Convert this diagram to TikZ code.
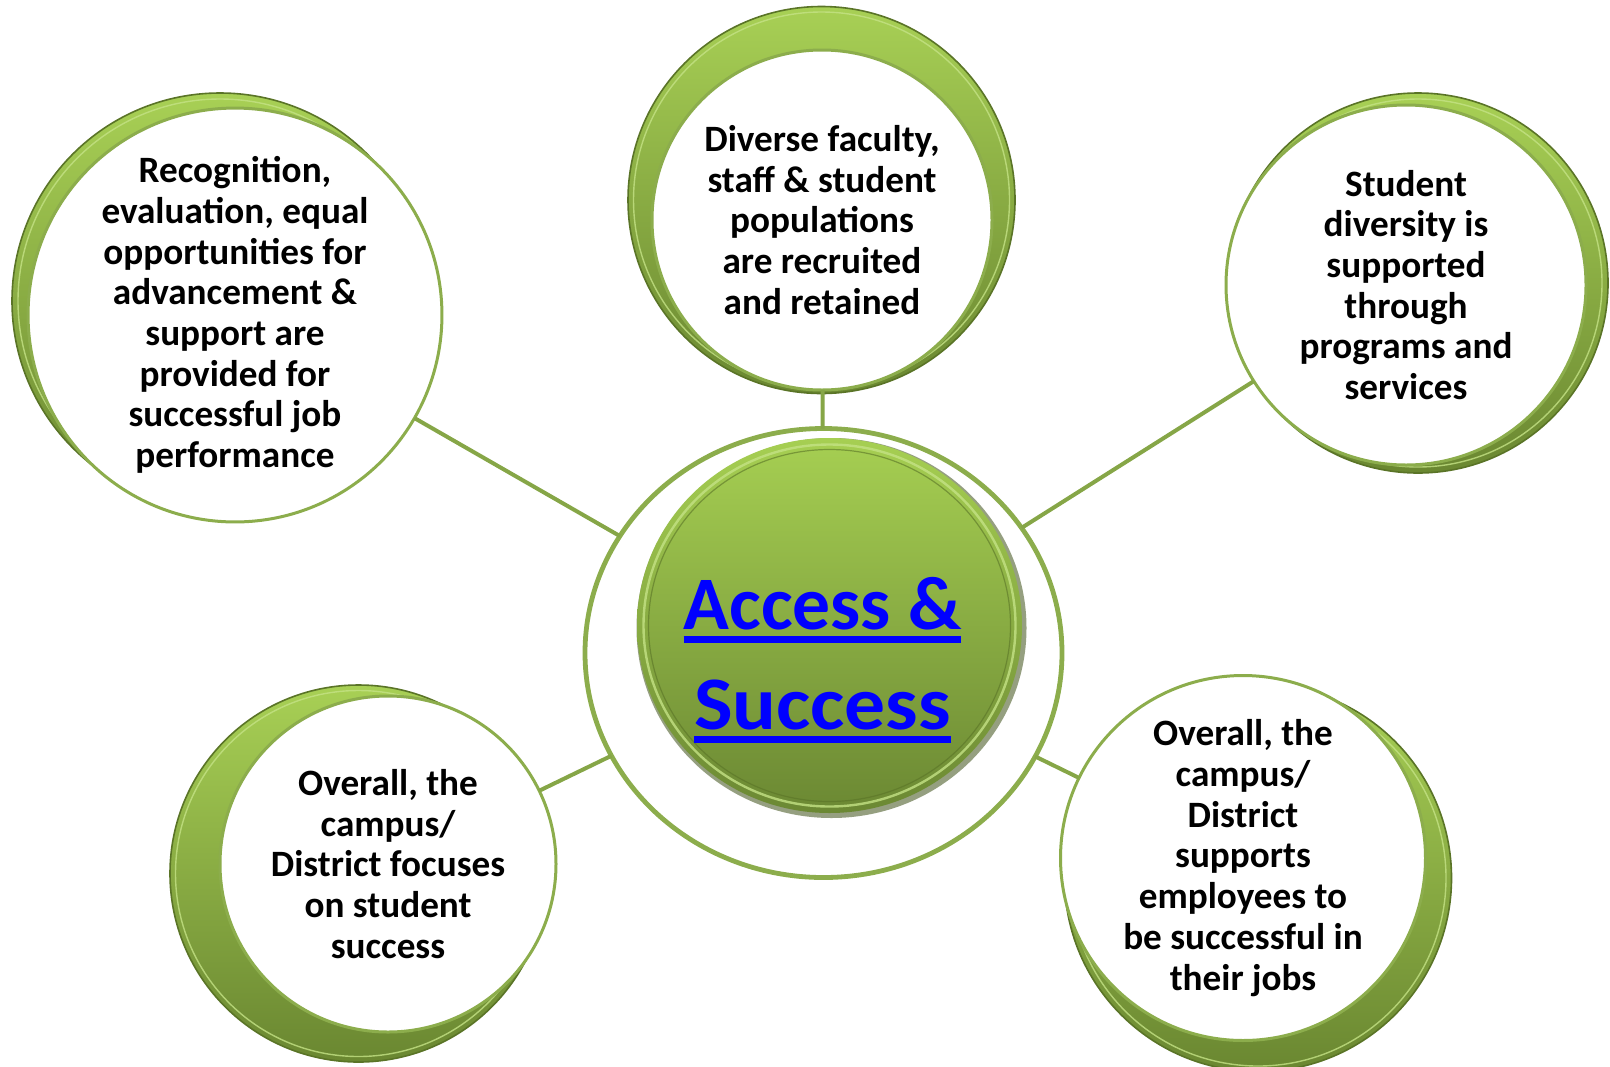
\documentclass[tikz,border=0pt]{standalone}
\usepackage{graphicx}
\usepackage{fontspec}
\setmainfont{Carlito}
\usetikzlibrary{shapes.geometric}
\definecolor{ringc}{HTML}{8CAD4C}
\definecolor{linec}{HTML}{86A647}
\definecolor{gtop}{HTML}{A8D055}
\definecolor{gbot}{HTML}{6A8731}
\definecolor{gedge}{HTML}{5A7427}
\definecolor{glight}{HTML}{C4E285}
\definecolor{ctop}{HTML}{A6CF52}
\definecolor{cbot}{HTML}{6B8833}
\definecolor{cshadow}{HTML}{3E5118}
\definecolor{linkblue}{HTML}{0000FF}
\newcommand\myul[1]{\setbox0\hbox{#1}\rlap{\rule[-6.5pt]{\wd0}{3.5pt}}\box0}
\begin{document}
\begin{tikzpicture}[x=0.5pt,y=-0.5pt,
  sat/.style={circle, draw=ringc, line width=1.5pt, fill=white, inner sep=0pt, outer sep=0pt,
    align=center, font=\bfseries\fontsize{18.6}{20.35}\selectfont},
  conn/.style={draw=linec, line width=2pt},
  greendisk/.style={top color=gtop, bottom color=gbot, draw=gedge, line width=0.8pt},
  rimlight/.style={draw=glight, line width=0.7pt, opacity=0.8}]
\useasboundingbox (0,0) rectangle (1610,1066);

% 3D green backs of the satellites
\shade[greendisk] (821.5,200) circle [radius=193.5];
\draw[rimlight] (821.5,200) circle [radius=188];
\shade[greendisk] (220,301) circle [radius=208];
\draw[rimlight] (220,301) circle [radius=202];
\shade[greendisk] (1418,283) circle [radius=190];
\draw[rimlight] (1418,283) circle [radius=184];
\shade[greendisk] (358.5,873.5) circle [radius=188.5];
\draw[rimlight] (358.5,873.5) circle [radius=183];
\shade[greendisk] (1258,878) circle [radius=193.5];
\draw[rimlight] (1258,878) circle [radius=188];

% satellites
\node[sat, minimum size=170pt] (tsat) at (822,220)
  {Diverse faculty,\\staff \& student\\populations\\are recruited\\and retained};
\node[sat, minimum size=190pt] (lsat) at (235,315)
  {Recognition,\\evaluation, equal\\opportunities for\\advancement \&\\support are\\provided for\\successful job\\performance};
\node[sat, minimum size=180pt] (rsat) at (1406,285)
  {Student\\diversity is\\supported\\through\\programs and\\services};
\node[sat, minimum size=168pt] (blsat) at (388,864)
  {Overall, the\\campus/\\District focuses\\on student\\success};
\node[sat, minimum size=172pt] (brsat) at (1243,858)
  {Overall, the\\campus/\\District\\supports\\employees to\\be successful in\\their jobs};

% central ring
\node[ellipse, draw=ringc, line width=2.4pt, fill=white, inner sep=0pt, outer sep=0pt,
  minimum width=238.5pt, minimum height=224.5pt] (ring) at (823.5,653) {};

% central green disk
\fill[cshadow, opacity=0.55] (831.5,628) ellipse [x radius=195, y radius=190];
\shade[top color=ctop, bottom color=cbot] (829.5,625.5) ellipse [x radius=192.5, y radius=187.5];
\draw[glight, line width=1.2pt, opacity=0.8] (829.5,625.5) ellipse [x radius=186, y radius=181];
\draw[gedge, line width=0.6pt, opacity=0.6] (829.5,625.5) ellipse [x radius=181, y radius=176];

\node[align=center, text=linkblue, inner sep=0pt, font=\bfseries\fontsize{37.8}{50}\selectfont]
  (title) at (822.5,660) {\myul{Access \&}\\\myul{\scalebox{1.08}[1]{Success}}};

% connectors
\draw[conn] (tsat) -- (ring);
\draw[conn] (lsat) -- (ring);
\draw[conn] (rsat) -- (ring);
\draw[conn] (blsat) -- (ring);
\draw[conn] (brsat) -- (ring);
\end{tikzpicture}
\end{document}
